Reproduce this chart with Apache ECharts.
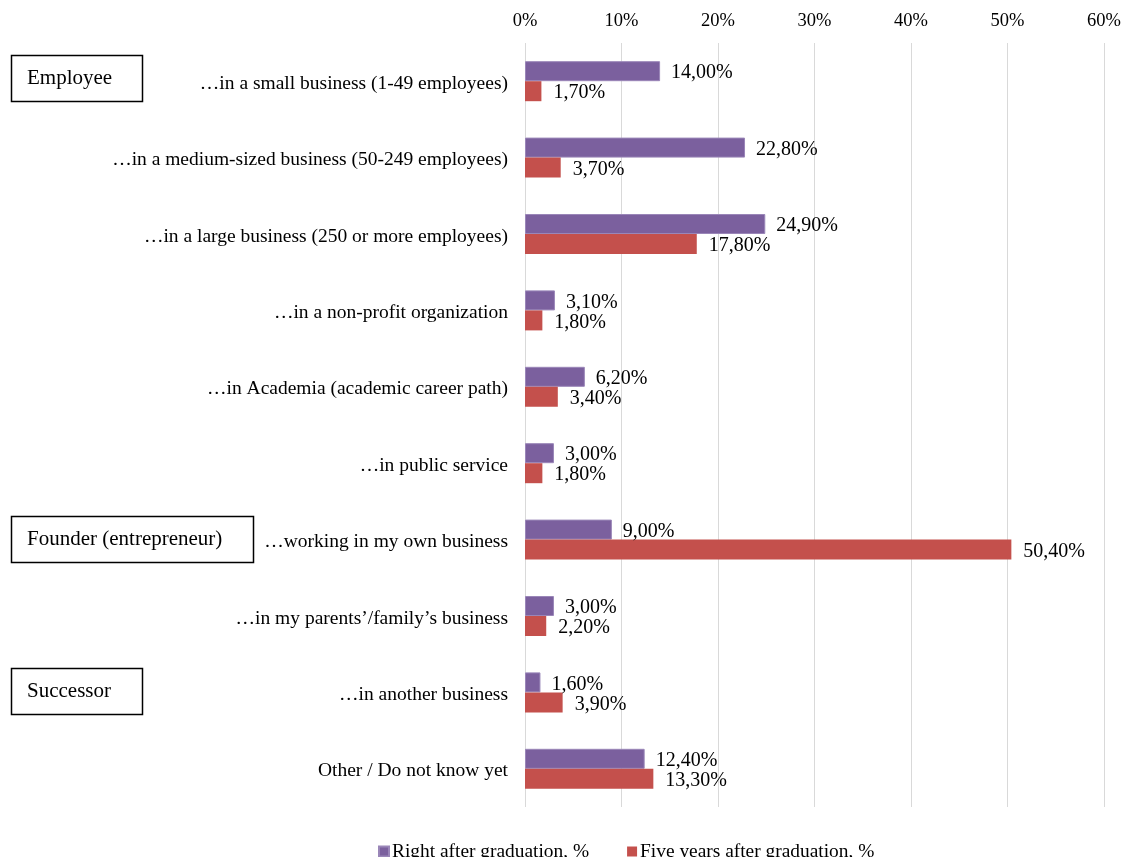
<!DOCTYPE html>
<html>
<head>
<meta charset="utf-8">
<script src="https://cdn.jsdelivr.net/npm/echarts@6/dist/echarts.min.js"></script>
<style>
  html, body { margin: 0; padding: 0; background: #fff; }
  #chart { width: 1126px; height: 857px; }
</style>
</head>
<body>
<div id="chart"></div>
<script>
// Career plans of graduates: share of answers per option
const categories = [
  '\u2026in a small business (1-49 employees)',
  '\u2026in a medium-sized business (50-249 employees)',
  '\u2026in a large business (250 or more employees)',
  '\u2026in a non-profit organization',
  '\u2026in Academia (academic career path)',
  '\u2026in public service',
  '\u2026working in my own business',
  '\u2026in my parents\u2019/family\u2019s business',
  '\u2026in another business',
  'Other / Do not know yet'
];
const seriesNames = ['Right after graduation, %', 'Five years after graduation, %'];
const rightAfter = [14.0, 22.8, 24.9, 3.1, 6.2, 3.0, 9.0, 3.0, 1.6, 12.4];
const fiveYears  = [1.7, 3.7, 17.8, 1.8, 3.4, 1.8, 50.4, 2.2, 3.9, 13.3];
const axisTicks = [0, 10, 20, 30, 40, 50, 60];
// Group headings shown as boxed notes on the left
const groupNames = ['Employee', 'Founder (entrepreneur)', 'Successor'];

const FONT = '"Liberation Serif", "Times New Roman", serif';
const chart = echarts.init(document.getElementById('chart'));

const fmt = v => v.toFixed(2).replace('.', ',') + '%';

const option = {
  animation: false,
  textStyle: { fontFamily: FONT, color: '#000' },
  grid: { left: 525, right: 22, top: 43, bottom: 50, containLabel: false },
  legend: {
    data: seriesNames,
    bottom: -9,
    left: 373,
    itemWidth: 10,
    itemHeight: 10,
    itemGap: 38,
    icon: 'rect',
    textStyle: { fontFamily: FONT, fontSize: 19.4, color: '#000', padding: [0, 0, 0, -2] }
  },
  xAxis: {
    type: 'value',
    position: 'top',
    min: axisTicks[0],
    max: axisTicks[axisTicks.length - 1],
    interval: axisTicks[1] - axisTicks[0],
    axisLine: { show: false },
    axisTick: { show: false },
    axisLabel: { fontFamily: FONT, fontSize: 18.5, color: '#000', margin: 12, formatter: v => v + '%' },
    splitLine: { show: true, lineStyle: { color: '#d9d9d9', width: 1 } }
  },
  yAxis: {
    type: 'category',
    data: categories,
    inverse: true,
    axisLine: { show: false },
    axisTick: { show: false },
    // a short line box hung from the tick drops each label slightly below the row centre
    axisLabel: { fontFamily: FONT, fontSize: 19.5, color: '#000', margin: 17, verticalAlign: 'top', lineHeight: 5 }
  },
  series: [
    {
      name: seriesNames[0],
      type: 'bar',
      data: rightAfter,
      barWidth: 20,
      barGap: '0%',
      itemStyle: { color: '#7B609E', borderColor: '#9A86B8', borderWidth: 1 },
      label: { show: true, position: 'right', distance: 11, offset: [0, 2], fontFamily: FONT, fontSize: 20, color: '#000', formatter: p => fmt(p.value) }
    },
    {
      name: seriesNames[1],
      type: 'bar',
      data: fiveYears,
      barWidth: 20,
      barGap: '0%',
      itemStyle: { color: '#C4504C' },
      label: { show: true, position: 'right', distance: 12, offset: [0, 2], fontFamily: FONT, fontSize: 20, color: '#000', formatter: p => fmt(p.value) }
    }
  ],
  graphic: groupNames.flatMap((name, i) => {
    const top = [55, 516, 668][i];
    const width = [131, 242, 131][i];
    return [
      {
        type: 'rect',
        shape: { x: 11.5, y: top + 0.5, width: width, height: 46 },
        style: { fill: '#fff', stroke: '#000', lineWidth: 1.5 }
      },
      {
        type: 'text',
        x: 27,
        y: top + 23,
        style: { text: name, font: '21px ' + FONT, fill: '#000', textVerticalAlign: 'middle' }
      }
    ];
  })
};

chart.setOption(option);
</script>
</body>
</html>
